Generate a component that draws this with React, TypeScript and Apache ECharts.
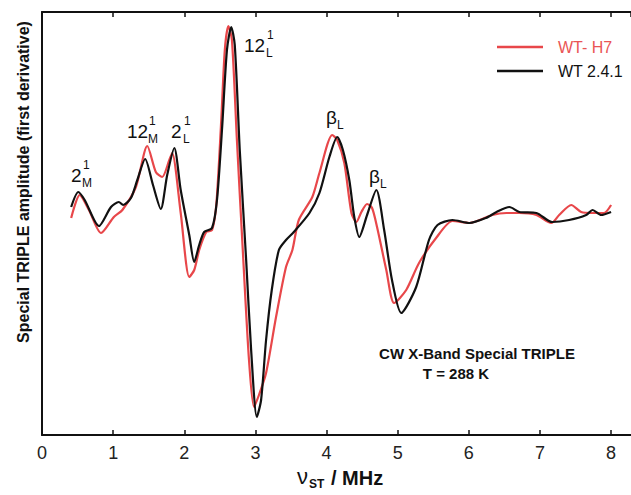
import React, { useEffect, useRef } from "react";
import * as echarts from "echarts";

// x in MHz, y in arbitrary amplitude units (0 = bottom of frame)
const redX = [0.41, 0.53, 0.66, 0.83, 1.01, 1.13, 1.32, 1.48, 1.6, 1.69, 1.79, 1.83, 1.95, 2.07, 2.14, 2.21, 2.31, 2.39, 2.45, 2.52, 2.57, 2.62, 2.67, 2.74, 2.83, 2.91, 2.98, 3.05, 3.15, 3.29, 3.43, 3.52, 3.61, 3.8, 3.9, 4.08, 4.15, 4.25, 4.35, 4.42, 4.49, 4.57, 4.64, 4.71, 4.84, 4.95, 5.12, 5.3, 5.54, 5.77, 6.01, 6.33, 6.53, 6.71, 6.95, 7.16, 7.27, 7.44, 7.58, 7.74, 7.9, 8.0];
const redY = [217, 240, 225, 202, 218, 225, 248, 289, 263, 258, 275, 282, 222, 158, 165, 185, 203, 205, 230, 315, 385, 409, 395, 295, 175, 75, 28, 40, 62, 118, 168, 185, 215, 238, 262, 300, 295, 272, 222, 213, 223, 231, 227, 208, 165, 132, 145, 172, 197, 214, 212, 220, 222, 222, 220, 212, 220, 230, 223, 222, 222, 230];

const blackX = [0.41, 0.51, 0.6, 0.8, 0.97, 1.08, 1.14, 1.25, 1.34, 1.45, 1.56, 1.67, 1.76, 1.86, 1.95, 2.07, 2.14, 2.21, 2.28, 2.39, 2.46, 2.53, 2.6, 2.66, 2.71, 2.78, 2.87, 2.94, 3.02, 3.08, 3.15, 3.23, 3.33, 3.43, 3.54, 3.76, 3.9, 4.04, 4.15, 4.23, 4.32, 4.39, 4.46, 4.57, 4.7, 4.81, 4.92, 5.05, 5.26, 5.44, 5.56, 5.77, 6.01, 6.24, 6.39, 6.57, 6.71, 6.95, 7.17, 7.41, 7.65, 7.74, 7.86, 8.0];
const blackY = [228, 243, 235, 209, 228, 233, 230, 237, 255, 276, 250, 226, 260, 287, 245, 200, 173, 190, 203, 207, 235, 305, 385, 408, 390, 285, 175, 85, 18, 35, 95, 145, 185, 195, 203, 222, 242, 278, 298, 285, 255, 218, 198, 220, 245, 205, 155, 122, 148, 195, 210, 215, 212, 217, 223, 228, 223, 222, 213, 215, 220, 225, 220, 223];

const xTicks = [0, 1, 2, 3, 4, 5, 6, 7, 8];
const seriesNames = ["WT- H7", "WT 2.4.1"];

const RED = "#e8474a";
const RED_TEXT = "#ea5555";
const BLACK = "#111111";
const FONT = "Liberation Sans, Arial, sans-serif";
const LEGEND_ICON = "path://M0,0L46,0L46,2.4L0,2.4Z";

function zip(xs: number[], ys: number[]) {
  return xs.map((x, i) => [x, ys[i]]);
}

function label(base: string, sup: string, sub: string, x: number, y: number, baseW: number) {
  const els: any[] = [
    { type: "text", x, y, style: { text: base, font: `19px ${FONT}`, fill: "#111", textAlign: "left", textVerticalAlign: "middle" } },
  ];
  if (sup) {
    els.push({ type: "text", x: x + baseW + 1, y: y - 10, style: { text: sup, font: `12px ${FONT}`, fill: "#111", textAlign: "left", textVerticalAlign: "middle" } });
  }
  if (sub) {
    els.push({ type: "text", x: x + baseW, y: y + 8, style: { text: sub, font: `12px ${FONT}`, fill: "#111", textAlign: "left", textVerticalAlign: "middle" } });
  }
  return els;
}

export default function App() {
  const ref = useRef<HTMLDivElement>(null);
  useEffect(() => {
    if (!ref.current) return;
    const chart = echarts.init(ref.current, undefined, { renderer: "svg" });
    const xMax = 8.28;
    chart.setOption({
      animation: false,
      backgroundColor: "#fff",
      textStyle: { fontFamily: FONT },
      grid: { left: 42, right: 0, top: 12, bottom: 60 },
      legend: {
        orient: "vertical",
        left: 492,
        top: 34,
        itemWidth: 46,
        itemHeight: 16,
        itemGap: 8,
        icon: LEGEND_ICON,
        symbolKeepAspect: true,
        data: [
          { name: seriesNames[0], icon: LEGEND_ICON, itemStyle: { color: RED, borderWidth: 0 }, textStyle: { color: RED_TEXT } },
          { name: seriesNames[1], icon: LEGEND_ICON, itemStyle: { color: BLACK, borderWidth: 0 }, textStyle: { color: BLACK } },
        ],
        textStyle: { fontSize: 16, fontFamily: FONT, padding: [0, 0, 0, 10] },
      },
      xAxis: [
        {
          type: "value",
          min: 0,
          max: xMax,
          interval: 1,
          axisLine: { show: true, onZero: false, lineStyle: { color: "#111", width: 2 } },
          axisTick: { show: true, inside: true, length: 5, lineStyle: { color: "#111", width: 1.5 } },
          axisLabel: {
            fontSize: 18,
            color: "#222",
            margin: 9,
            showMaxLabel: false,
            formatter: (v: number) => (xTicks.includes(v) ? String(v) : ""),
          },
          splitLine: { show: false },
        },
        {
          type: "value",
          position: "top",
          min: 0,
          max: xMax,
          interval: 1,
          axisLine: { show: true, onZero: false, lineStyle: { color: "#111", width: 2 } },
          axisTick: { show: true, inside: true, length: 5, lineStyle: { color: "#111", width: 1.5 } },
          axisLabel: { show: false },
          splitLine: { show: false },
        },
      ],
      yAxis: {
        type: "value",
        min: 0,
        max: 423,
        axisLine: { show: true, lineStyle: { color: "#111", width: 2 } },
        axisTick: { show: false },
        axisLabel: { show: false },
        splitLine: { show: false },
      },
      series: [
        {
          name: seriesNames[0],
          type: "line",
          data: zip(redX, redY),
          smooth: 0.25,
          symbol: "none",
          lineStyle: { color: RED, width: 2.2 },
          itemStyle: { color: RED },
        },
        {
          name: seriesNames[1],
          type: "line",
          data: zip(blackX, blackY),
          smooth: 0.25,
          symbol: "none",
          lineStyle: { color: BLACK, width: 2.2 },
          itemStyle: { color: BLACK },
        },
      ],
      graphic: [
        ...label("2", "1", "M", 71, 175, 11),
        ...label("12", "1", "M", 127, 131, 21),
        ...label("2", "1", "L", 171, 131, 12),
        ...label("12", "1", "L", 244, 45, 22),
        ...label("β", "", "L", 326, 117, 11),
        ...label("β", "", "L", 369, 176, 11),
        {
          type: "text",
          x: 477,
          y: 353,
          style: { text: "CW X-Band Special TRIPLE", font: `bold 15px ${FONT}`, fill: "#111", textAlign: "center", textVerticalAlign: "middle" },
        },
        {
          type: "text",
          x: 456,
          y: 373,
          style: { text: "T = 288 K", font: `bold 15px ${FONT}`, fill: "#111", textAlign: "center", textVerticalAlign: "middle" },
        },
        {
          type: "text",
          x: 23,
          y: 182,
          rotation: Math.PI / 2,
          style: { text: "Special TRIPLE amplitude (first derivative)", font: `bold 16px ${FONT}`, fill: "#111", textAlign: "center", textVerticalAlign: "middle" },
        },
        {
          type: "group",
          x: 0,
          y: 0,
          children: [
            { type: "text", x: 297, y: 476, style: { text: "ν", font: `22px ${FONT}`, fill: "#111", textAlign: "left", textVerticalAlign: "middle" } },
            { type: "text", x: 309, y: 484, style: { text: "ST", font: `bold 12px ${FONT}`, fill: "#111", textAlign: "left", textVerticalAlign: "middle" } },
            { type: "text", x: 331, y: 478, style: { text: "/ MHz", font: `bold 20px ${FONT}`, fill: "#111", textAlign: "left", textVerticalAlign: "middle" } },
          ],
        },
      ],
    });
    return () => chart.dispose();
  }, []);
  return <div ref={ref} style={{ width: 631, height: 495, position: "absolute", left: 0, top: 0 }} />;
}
